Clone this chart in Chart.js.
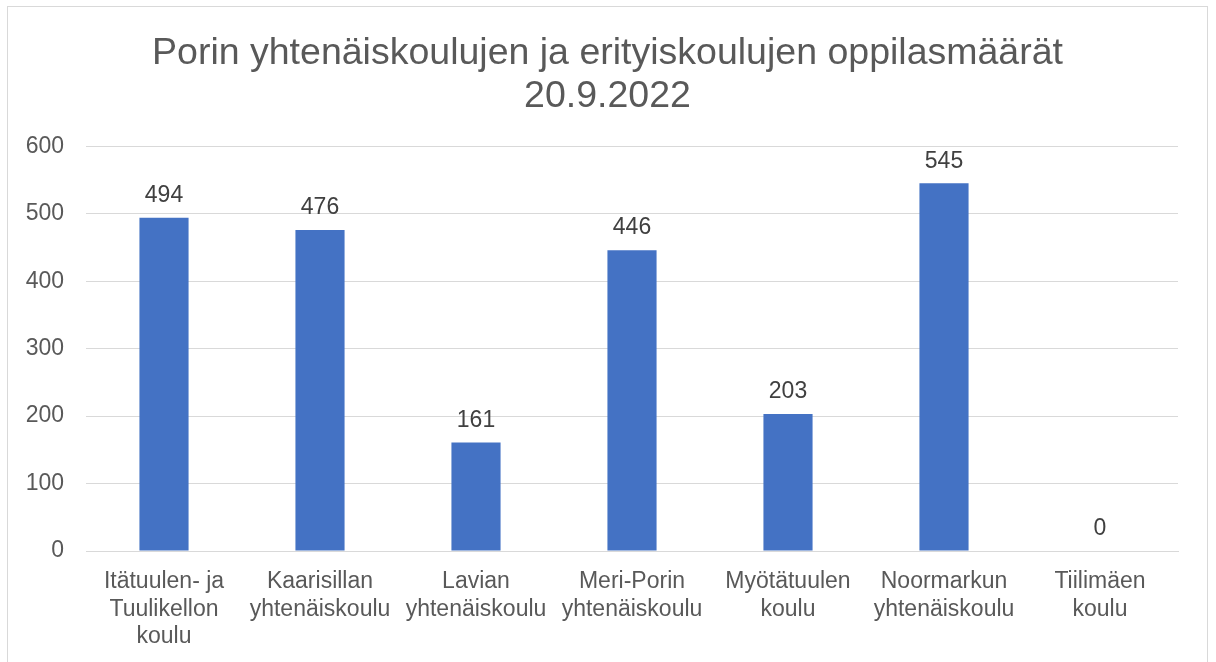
<!DOCTYPE html>
<html>
<head>
<meta charset="utf-8">
<script src="https://cdn.jsdelivr.net/npm/chart.js@4"></script>
<style>
  html, body { margin: 0; padding: 0; background: #fff; overflow: hidden; }
  #wrap { position: absolute; left: 7px; top: 6px; width: 1201px; height: 680px; border: 1px solid #d9d9d9; box-sizing: border-box; }
  canvas { display: block; }
</style>
</head>
<body>
<div id="wrap"><canvas id="kouluChart" width="1199" height="655"></canvas></div>
<script>
// oppilasmäärät 20.9.2022
const koulut = [
    ['Itätuulen- ja', 'Tuulikellon', 'koulu'],
    ['Kaarisillan', 'yhtenäiskoulu'],
    ['Lavian', 'yhtenäiskoulu'],
    ['Meri-Porin', 'yhtenäiskoulu'],
    ['Myötätuulen', 'koulu'],
    ['Noormarkun', 'yhtenäiskoulu'],
    ['Tiilimäen', 'koulu']
];
const oppilaat = [494, 476, 161, 446, 203, 545, 0];
const yTicks = [0, 100, 200, 300, 400, 500, 600];

const fontti = '"Liberation Sans", Arial, sans-serif';

// arvot palkkien päälle
const arvoLabelit = {
    id: 'arvoLabelit',
    afterDatasetsDraw(chart) {
        const ctx = chart.ctx;
        const meta = chart.getDatasetMeta(0);
        ctx.save();
        ctx.font = '23px ' + fontti;
        ctx.fillStyle = '#404040';
        ctx.textAlign = 'center';
        ctx.textBaseline = 'middle';
        meta.data.forEach((bar, i) => {
            ctx.fillText(String(oppilaat[i]), bar.x, bar.y - 22);
        });
        ctx.restore();
    }
};

const ctx = document.getElementById('kouluChart').getContext('2d');
new Chart(ctx, {
    type: 'bar',
    data: {
        labels: koulut,
        datasets: [{
            data: oppilaat,
            backgroundColor: '#4472C4',
            barPercentage: 0.315,
            categoryPercentage: 1.0
        }]
    },
    options: {
        responsive: false,
        animation: false,
        layout: { padding: 0 },
        plugins: {
            legend: { display: false },
            tooltip: { enabled: false },
            title: {
                display: true,
                text: ['Porin yhtenäiskoulujen ja erityiskoulujen oppilasmäärät', '20.9.2022'],
                color: '#595959',
                font: { family: fontti, size: 37.5, weight: 'normal', lineHeight: 1.15 },
                padding: { top: 25, bottom: 28 }
            }
        },
        scales: {
            y: {
                min: 0,
                max: 600,
                afterBuildTicks(axis) { axis.ticks = yTicks.map(v => ({ value: v })); },
                afterFit(axis) { axis.width = 78; },
                grid: { color: '#d9d9d9', drawTicks: false },
                border: { display: false },
                ticks: {
                    color: '#595959',
                    padding: 22,
                    font: { family: fontti, size: 23 }
                }
            },
            // tyhjä tila oikealle
            oikea: {
                position: 'right',
                afterFit(axis) { axis.width = 29; },
                grid: { display: false, drawTicks: false },
                border: { display: false },
                ticks: { display: false }
            },
            x: {
                afterFit(axis) { axis.height = 111; },
                grid: { display: false, drawTicks: false },
                border: { display: true, color: '#d9d9d9' },
                ticks: {
                    color: '#595959',
                    padding: 17,
                    maxRotation: 0,
                    autoSkip: false,
                    font: { family: fontti, size: 23, lineHeight: 1.2 }
                }
            }
        }
    },
    plugins: [arvoLabelit]
});
</script>
</body>
</html>
